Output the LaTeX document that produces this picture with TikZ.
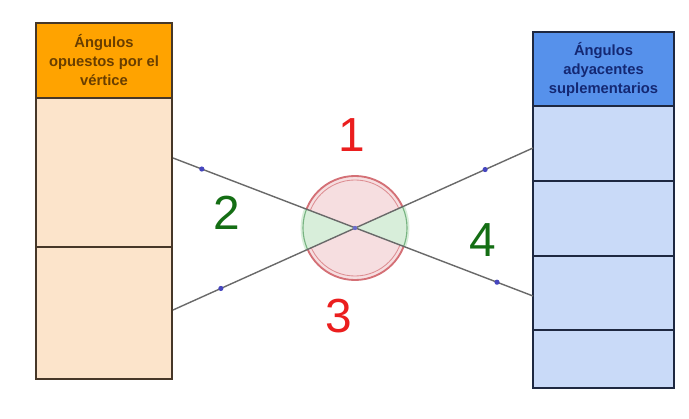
\documentclass[tikz,border=0pt]{standalone}
\usepackage{fontspec}
\setmainfont{Liberation Sans}
\usetikzlibrary{calc}
\definecolor{naranja}{RGB}{255,163,0}
\definecolor{durazno}{RGB}{252,228,203}
\definecolor{azulhd}{RGB}{86,145,235}
\definecolor{azulcl}{RGB}{201,218,248}
\definecolor{bordeL}{RGB}{70,55,40}
\definecolor{bordeR}{RGB}{30,40,65}
\definecolor{textoL}{RGB}{105,62,0}
\definecolor{textoR}{RGB}{20,40,115}
\definecolor{gris}{RGB}{105,105,105}
\definecolor{punto}{RGB}{70,70,190}
\definecolor{rojo}{RGB}{235,30,30}
\definecolor{verde}{RGB}{20,110,20}
\definecolor{rosa}{RGB}{246,222,224}
\definecolor{anillo}{RGB}{212,112,118}
\definecolor{verdecl}{RGB}{216,238,218}
\definecolor{anilloV}{RGB}{120,180,130}
\tikzset{%
  celdaL/.style={rectangle, draw=bordeL, line width=1.3pt, fill=durazno, inner sep=0pt, outer sep=0pt, minimum width=3.4cm, anchor=north west},
  celdaR/.style={rectangle, draw=bordeR, line width=1.3pt, fill=azulcl, inner sep=0pt, outer sep=0pt, minimum width=3.525cm, anchor=north west},
  encab/.style={font=\fontsize{10.5}{13.5}\selectfont\bfseries, align=center},
  recta/.style={draw=gris, line width=1pt},
  numero/.style={font=\fontsize{34}{34}\selectfont}
}

\begin{document}
\begin{tikzpicture}[x=0.025cm, y=-0.025cm]
  \useasboundingbox [fill=white] (0,0) rectangle (689,419);

% caja izquierda
\node [celdaL, fill=naranja, minimum height=1.875cm, encab, text=textoL] (hdL) at (36,23) {Ángulos\\opuestos por el\\vértice};
\foreach \t/\b [count=\i] in {98/247,247/379} {
  \node [celdaL, minimum height={(\b-\t)*0.025cm}] (lc\i) at (36,\t) {};
}

% caja derecha
\node [celdaR, fill=azulhd, minimum height=1.85cm, encab, text=textoR] (hdR) at (533,32) {Ángulos\\adyacentes\\suplementarios};
\foreach \t/\b [count=\i] in {106/181,181/256,256/330,330/388} {
  \node [celdaR, minimum height={(\b-\t)*0.025cm}] (rc\i) at (533,\t) {};
}

\coordinate (O) at (355,228);
\coordinate (aL) at (173,158);
\coordinate (aR) at (533,296);
\coordinate (bL) at (173,310);
\coordinate (bR) at (533,148);

% circulo
\fill [rosa] (O) circle [radius=1.3cm];
\draw [anillo, line width=1.3pt] (O) circle [radius=1.3cm];
\draw [anillo!80, line width=0.6pt] (O) circle [radius=1.2cm];
\begin{scope}
  \clip (O) -- (aL) -- (bL) -- cycle (O) -- (aR) -- (bR) -- cycle;
  \fill [verdecl] (O) circle [radius=1.36cm];
  \draw [anilloV, line width=0.8pt] (O) circle [radius=1.3cm];
\end{scope}

% rectas
\draw [recta] (aL) -- (aR)
  node [pos=0.08, circle, fill=punto, inner sep=1.3pt] (pa1) {}
  node [pos=0.9, circle, fill=punto, inner sep=1.3pt] (pa2) {};
\draw [recta] (bL) -- (bR)
  node [pos=0.133, circle, fill=punto, inner sep=1.3pt] (pb1) {}
  node [pos=0.867, circle, fill=punto, inner sep=1.3pt] (pb2) {};
\node [circle, fill=punto!80, inner sep=1.1pt] (vO) at (O) {};

\node [numero, text=rojo] (n1) at (352,135) {1};
\node [numero, text=verde] (n2) at (227,213) {2};
\node [numero, text=rojo] (n3) at (339,316) {3};
\node [numero, text=verde] (n4) at (483,240) {4};
\end{tikzpicture}
\end{document}
